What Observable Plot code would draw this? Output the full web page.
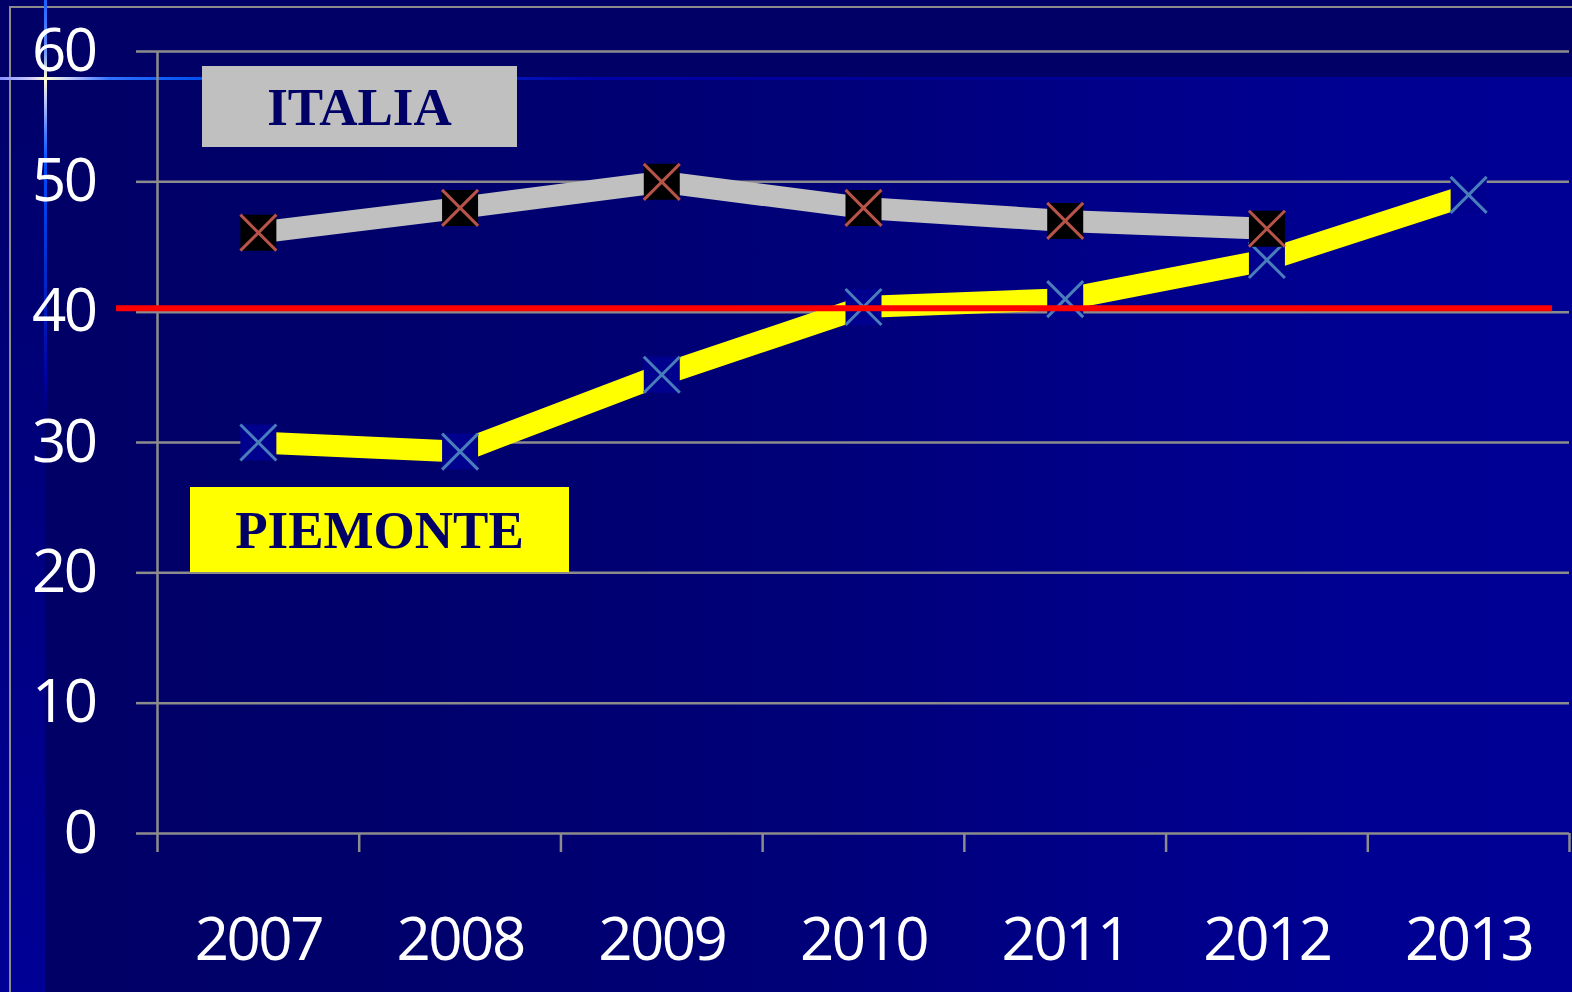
<!DOCTYPE html>
<html>
<head>
<meta charset="utf-8">
<script src="https://cdn.jsdelivr.net/npm/d3@7"></script>
<script src="https://cdn.jsdelivr.net/npm/@observablehq/plot@0.6"></script>
<style>
  html, body { margin: 0; padding: 0; background: #000066; }
  #wrap { position: relative; width: 1572px; height: 992px; overflow: hidden;
    background: linear-gradient(to right, #000066 0px, #000066 45px, #00006c 400px, #000078 800px, #000088 1100px, #000092 1350px, #000094 1572px); }
  .layer { position: absolute; }
  #topband { left: 0; top: 0; width: 1572px; height: 80px; background: #000066; }
  #leftstrip { left: 0; top: 80px; width: 45px; height: 912px; background: linear-gradient(to bottom, #00006a, #000080 50%, #000096); }
  #hglow { left: 0; top: 77px; width: 1572px; height: 3px;
    background: linear-gradient(to right, #8890ff 0px, #c8c8ff 30px, #ffffd0 46px, #c0c8ff 70px, #3070ff 110px, #0050f0 200px, #0030c8 400px, #0000a8 600px, #000096 900px, #000094 1572px); }
  #vglow { left: 44px; top: 0; width: 3px; height: 420px;
    background: linear-gradient(to bottom, #2060ff 0px, #6090ff 50px, #ffffd0 79px, #c0c8ff 100px, #5080ff 130px, #0050ff 160px, #0030d0 260px, #0000a0 380px, rgba(0,0,150,0) 420px); }
  #frameV { left: 9px; top: 6px; width: 2px; height: 986px; background: #8c8c8c; }
  #frameH { left: 9px; top: 6px; width: 1563px; height: 2px; background: #8c8c8c; }
  #chart { position: absolute; left: 0; top: 0; }
  .legend { position: absolute; display: flex; align-items: center; justify-content: center;
    font-family: "Liberation Serif", "Times New Roman", serif; font-weight: bold; font-size: 53px; color: #000066; }
  .legend span { position: relative; }
  #lgItalia { left: 202px; top: 66px; width: 315px; height: 81px; background: #c0c0c0; }
  #lgPiemonte { left: 190px; top: 487px; width: 379px; height: 85px; background: #ffff00; }
</style>
</head>
<body>
<div id="wrap">
  <div class="layer" id="topband"></div>
  <div class="layer" id="leftstrip"></div>
  <div class="layer" id="frameV"></div>
  <div class="layer" id="frameH"></div>
  <div class="layer" id="hglow"></div>
  <div class="layer" id="vglow"></div>
  <div id="chart"></div>
  <div class="legend" id="lgItalia"><span>ITALIA</span></div>
  <div class="legend" id="lgPiemonte"><span>PIEMONTE</span></div>
</div>
<script>
// ---- data ----
const years = [2007, 2008, 2009, 2010, 2011, 2012, 2013];
const italiaValues = [46.1, 48.0, 50.0, 48.0, 47.0, 46.4];          // 2007–2012
const piemonteValues = [30.0, 29.3, 35.2, 40.4, 41.0, 44.0, 49.0];   // 2007–2013
const thresholdValue = [40.3];
const yTicks = [0, 10, 20, 30, 40, 50, 60];

const italia = italiaValues.map((v, i) => ({year: years[i], value: v}));
const piemonte = piemonteValues.map((v, i) => ({year: years[i], value: v}));
const bandEdges = years.map(y => y - 0.5).concat([years[years.length - 1] + 0.5]);

// custom symbols
const squareSym = {draw(ctx, size) { const h = Math.sqrt(size / Math.PI); ctx.rect(-h, -h, 2 * h, 2 * h); }};
const crossSym = {draw(ctx, size) { const h = Math.sqrt(size / Math.PI);
  ctx.moveTo(-h, -h); ctx.lineTo(h, h); ctx.moveTo(h, -h); ctx.lineTo(-h, h); }};

const gridColor = "#8c8c8c";

const chart = Plot.plot({
  width: 1572,
  height: 992,
  marginLeft: 157,
  marginRight: 3,
  marginTop: 51,
  marginBottom: 159,
  style: {background: "transparent", color: "white", fontFamily: "'Open Sans', sans-serif", fontSize: "60px", letterSpacing: "-2.5px", overflow: "visible"},
  x: {type: "linear", domain: [bandEdges[0], bandEdges[bandEdges.length - 1]], axis: null},
  y: {type: "linear", domain: [0, 60], axis: null},
  marks: [
    Plot.ruleY(yTicks, {stroke: gridColor, strokeWidth: 2.5}),
    Plot.axisY({ticks: yTicks, tickSize: 21, tickPadding: 41, stroke: gridColor, strokeWidth: 2.5, fill: "white", fontSize: 60, label: null}),
    Plot.ruleX([bandEdges[0]], {y1: 0, y2: 60, stroke: gridColor, strokeWidth: 2.5}),
    Plot.axisX({ticks: bandEdges, tickSize: 19, stroke: gridColor, strokeWidth: 2.5, tickFormat: () => "", label: null}),
    Plot.axisX({ticks: years, tickSize: 0, tickPadding: 84, fill: "white", fontSize: 60, tickFormat: d => `${d}`, label: null}),
    // PIEMONTE
    Plot.line(piemonte, {x: "year", y: "value", stroke: "#ffff00", strokeWidth: 22, strokeLinecap: "butt"}),
    Plot.dot(piemonte, {x: "year", y: "value", symbol: squareSym, r: 18, fill: "#00008e", stroke: "none"}),
    Plot.dot(piemonte, {x: "year", y: "value", symbol: crossSym, r: 18, fill: "none", stroke: "#4a7ebb", strokeWidth: 3}),
    // ITALIA
    Plot.line(italia, {x: "year", y: "value", stroke: "#c0c0c0", strokeWidth: 22, strokeLinecap: "butt"}),
    Plot.dot(italia, {x: "year", y: "value", symbol: squareSym, r: 18, fill: "#000000", stroke: "none"}),
    Plot.dot(italia, {x: "year", y: "value", symbol: crossSym, r: 18, fill: "none", stroke: "#b8534a", strokeWidth: 3}),
    // threshold
    Plot.ruleY(thresholdValue, {x1: 2006.297, x2: 2013.416, stroke: "#ff0000", strokeWidth: 6})
  ]
});
document.getElementById("chart").appendChild(chart);
</script>
</body>
</html>
